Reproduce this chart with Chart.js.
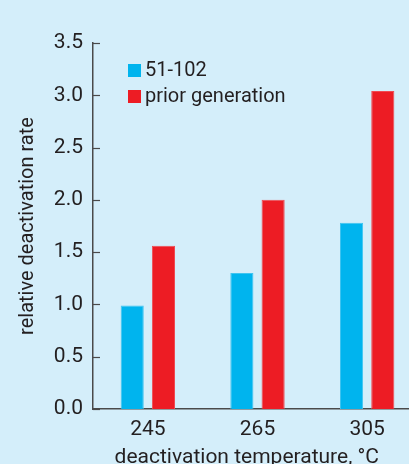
<!DOCTYPE html>
<html><head><meta charset="utf-8">
<script src="https://cdn.jsdelivr.net/npm/chart.js@4.4.1/dist/chart.umd.min.js"></script>
<style>
html,body{margin:0;padding:0;background:#d4eefa;overflow:hidden;width:409px;height:464px}
#wrap{width:422px;height:470px}
</style></head>
<body><div id="wrap"><canvas id="c" width="422" height="470"></canvas></div>
<script>
const categories = ['245', '265', '305'];
const series51 = [0.99, 1.30, 1.78];
const seriesPrior = [1.56, 2.00, 3.04];
const seriesNames = ['51-102', 'prior generation'];
const yMin = 0, yMax = 3.5, yStep = 0.5;
const xTitle = 'deactivation temperature, °C\u2002\u2002';
const yTitle = 'relative deactivation rate';

const TEXT = '#231f20';
const AXIS = '#4a4a4a';
Chart.defaults.font.family = 'Roboto, "Liberation Sans", sans-serif';
Chart.defaults.color = TEXT;

const innerTicks = {
  id: 'innerTicks',
  afterDraw(chart) {
    const y = chart.scales.y, ctx = chart.ctx;
    ctx.save();
    ctx.strokeStyle = AXIS; ctx.lineWidth = 1.2;
    y.ticks.forEach(t => {
      const py = Math.round(y.getPixelForValue(t.value)) + 0.5;
      ctx.beginPath(); ctx.moveTo(chart.chartArea.left, py); ctx.lineTo(chart.chartArea.left + 7, py); ctx.stroke();
    });
    ctx.restore();
  }
};
const innerLegend = {
  id: 'innerLegend',
  afterDraw(chart) {
    const ctx = chart.ctx, a = chart.chartArea;
    ctx.save();
    ctx.font = '20px Roboto, "Liberation Sans", sans-serif';
    ctx.textBaseline = 'middle';
    chart.data.datasets.forEach((ds, i) => {
      const top = 64 + i * 26;
      ctx.fillStyle = ds.backgroundColor;
      ctx.fillRect(a.left + 35, top, 13, 13);
      ctx.fillStyle = TEXT;
      ctx.fillText(ds.label, a.left + 52, top + 6.5);
    });
    ctx.restore();
  }
};

new Chart(document.getElementById('c'), {
  type: 'bar',
  data: {
    labels: categories,
    datasets: [
      { label: seriesNames[0], data: series51, backgroundColor: '#00b4ee', borderColor: '#3fc4f0', borderWidth: 1, borderSkipped: 'bottom' },
      { label: seriesNames[1], data: seriesPrior, backgroundColor: '#ed1c24', borderColor: '#f04a52', borderWidth: 1, borderSkipped: 'bottom' }
    ]
  },
  options: {
    responsive: false,
    animation: false,
    devicePixelRatio: 1,
    layout: { padding: { top: 43, left: 0, right: 0, bottom: 0 } },
    categoryPercentage: 0.57,
    barPercentage: 0.74,
    plugins: { legend: { display: false }, tooltip: { enabled: false } },
    scales: {
      x: {
        offset: true,
        grid: { display: false, drawTicks: false },
        border: { display: true, color: AXIS, width: 1.5 },
        ticks: { font: { size: 21 }, padding: 8, color: TEXT },
        title: { display: true, text: xTitle, font: { size: 21 }, padding: { top: 2, bottom: 0 }, color: TEXT },
        afterFit(s) { s.height = 61; }
      },
      y: {
        min: yMin, max: yMax,
        grid: { display: false, drawTicks: false },
        border: { display: true, color: AXIS, width: 1.5 },
        ticks: { stepSize: yStep, font: { size: 21 }, padding: 10, color: TEXT, callback: v => Number(v).toFixed(1) },
        title: { display: true, text: yTitle, font: { size: 20 }, padding: { top: 16, bottom: 0 }, color: TEXT },
        afterFit(s) { s.width = 93; }
      }
    }
  },
  plugins: [innerTicks, innerLegend]
});
</script>
</body></html>
